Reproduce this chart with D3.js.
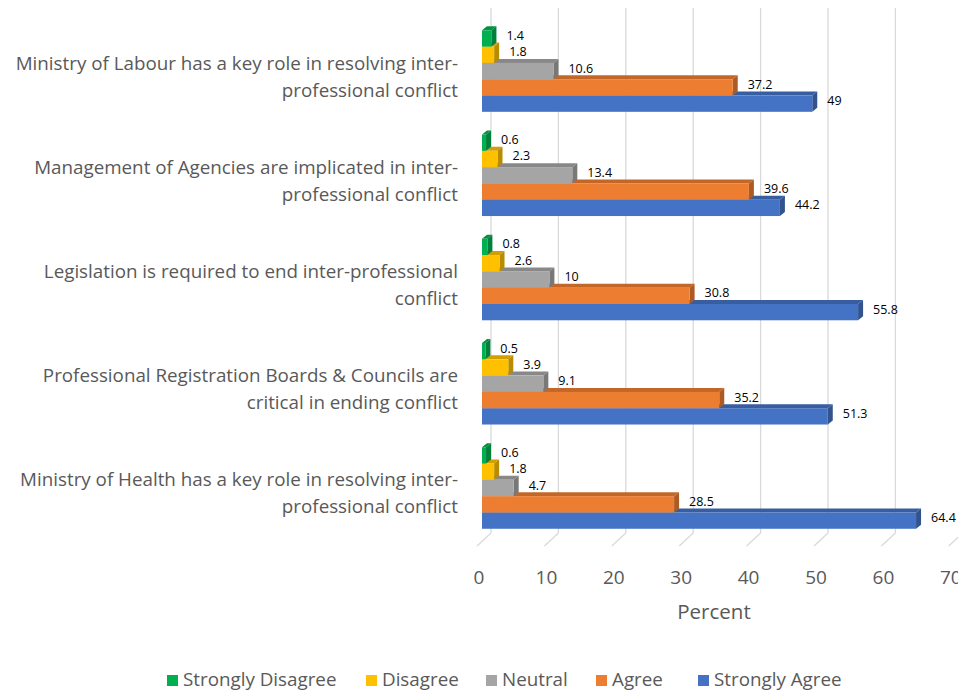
<!DOCTYPE html>
<html><head><meta charset="utf-8">
<script src="https://cdn.jsdelivr.net/npm/d3@7"></script>
<style>
body{margin:0;background:#fff;}
svg{display:block;}
text{font-family:"Open Sans",sans-serif;}
</style></head>
<body><svg id="chart" width="958" height="691"></svg>
<script>
const categories = [
  "Ministry of Labour has a key role in resolving inter-professional conflict",
  "Management of Agencies are implicated in inter-professional conflict",
  "Legislation is required to end inter-professional conflict",
  "Professional Registration Boards & Councils are critical in ending conflict",
  "Ministry of Health has a key role in resolving inter-professional conflict"
];
const categoryLines = [
  ["Ministry of Labour has a key role in resolving inter-", "professional conflict"],
  ["Management of Agencies are implicated in inter-", "professional conflict"],
  ["Legislation is required to end inter-professional", "conflict"],
  ["Professional Registration Boards & Councils are", "critical in ending conflict"],
  ["Ministry of Health has a key role in resolving inter-", "professional conflict"]
];
const seriesNames = ["Strongly Disagree", "Disagree", "Neutral", "Agree", "Strongly Agree"];
const stronglyDisagree = [1.4, 0.6, 0.8, 0.5, 0.6];
const disagree = [1.8, 2.3, 2.6, 3.9, 1.8];
const neutral = [10.6, 13.4, 10, 9.1, 4.7];
const agree = [37.2, 39.6, 30.8, 35.2, 28.5];
const stronglyAgree = [49, 44.2, 55.8, 51.3, 64.4];
const xTicks = [0, 10, 20, 30, 40, 50, 60, 70];
const colors = ["#00B050", "#FFC000", "#A5A5A5", "#ED7D31", "#4472C4"];

const seriesValues = [stronglyDisagree, disagree, neutral, agree, stronglyAgree];

const svg = d3.select("#chart");
const x = d3.scaleLinear().domain([0, 70]).range([482, 953.8]);
const y = d3.scaleBand().domain(d3.range(categories.length)).range([18.9, 540.1]).padding(0);
const sub = d3.scaleBand().domain(d3.range(seriesNames.length)).range([11.4, 11.4 + 81.5]);
const DX = 5, DY = -4;
const gridBack = 9;

// back wall gridlines + floor lines
const grid = svg.append("g");
xTicks.forEach(t => {
  grid.append("line").attr("x1", x(t) + gridBack).attr("x2", x(t) + gridBack)
    .attr("y1", 8).attr("y2", 533).attr("stroke", "#d9d9d9").attr("stroke-width", 1.3);
  grid.append("line").attr("x1", x(t) + gridBack).attr("x2", x(t) - 5)
    .attr("y1", 533).attr("y2", 546).attr("stroke", "#d9d9d9").attr("stroke-width", 1.3);
});

// bars: bottom series first so upper bar fronts cover lower top faces
const barsG = svg.append("g");
categories.forEach((c, ci) => {
  for (let si = seriesNames.length - 1; si >= 0; si--) {
    const v = seriesValues[si][ci];
    const x0 = x(0), x1 = x(v);
    const y0 = y(ci) + sub(si), h = sub.bandwidth();
    const base = d3.color(colors[si]);
    const g = barsG.append("g");
    g.append("path").attr("d", `M${x0},${y0}L${x0+DX},${y0+DY}L${x1+DX},${y0+DY}L${x1},${y0}Z`)
      .attr("fill", base.darker(0.55));
    g.append("path").attr("d", `M${x1},${y0}L${x1+DX},${y0+DY}L${x1+DX},${y0+h+DY}L${x1},${y0+h}Z`)
      .attr("fill", base.darker(0.9));
    g.append("rect").attr("x", x0).attr("y", y0).attr("width", x1 - x0).attr("height", h)
      .attr("fill", colors[si]);
  }
});

// data labels
const lab = svg.append("g");
categories.forEach((c, ci) => {
  seriesNames.forEach((s, si) => {
    const v = seriesValues[si][ci];
    lab.append("text").attr("x", x(v) + DX + 10).attr("y", y(ci) + sub(si) + sub.bandwidth() / 2 - 3)
      .attr("dominant-baseline", "central").attr("font-size", 12.5).attr("fill", "#000")
      .text(v);
  });
});

// category labels
const cl = svg.append("g");
categoryLines.forEach((lines, ci) => {
  const cy = y(ci) + y.bandwidth() / 2 + 5;
  lines.forEach((ln, li) => {
    cl.append("text").attr("x", 458).attr("y", cy + (li - (lines.length - 1) / 2) * 27)
      .attr("text-anchor", "end").attr("dominant-baseline", "central")
      .attr("font-size", 18.8).attr("fill", "#595959").text(ln);
  });
});

// x tick labels
const tl = svg.append("g");
xTicks.forEach(t => {
  tl.append("text").attr("x", x(t) - 3).attr("y", 577).attr("text-anchor", "middle")
    .attr("dominant-baseline", "central").attr("font-size", 19).attr("fill", "#595959").text(t);
});
svg.append("text").attr("x", 714).attr("y", 611).attr("text-anchor", "middle")
  .attr("dominant-baseline", "central").attr("font-size", 20.5).attr("fill", "#595959").text("Percent");

// legend
const legX = [167, 366, 486, 596, 698];
const leg = svg.append("g");
seriesNames.forEach((s, si) => {
  leg.append("rect").attr("x", legX[si]).attr("y", 675).attr("width", 11).attr("height", 11).attr("fill", colors[si]);
  leg.append("text").attr("x", legX[si] + 16).attr("y", 686)
    .attr("font-size", 18.8).attr("fill", "#595959").text(s);
});
</script></body></html>
